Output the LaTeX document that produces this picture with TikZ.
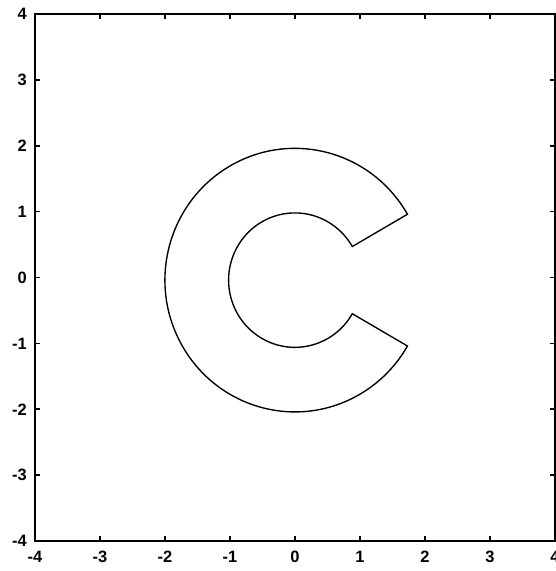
\documentclass[tikz,border=0pt]{standalone}
\usepackage{fontspec}
\setmainfont{Liberation Sans}
\begin{document}
\begin{tikzpicture}[x=1cm, y=1.0138cm,
    every node/.style={font=\fontsize{7.2}{8}\selectfont\bfseries, inner sep=0pt}]
    \useasboundingbox (-4.538, -4.455) rectangle (4.015, 4.212);

    % Marco del grafico
    \draw[line width=0.9pt] (-4, -4) rectangle (4, 4);

    % Marcas en x (abajo y arriba) con etiquetas
    \foreach \x in {-4,...,4} {
        \draw[line width=0.7pt] (\x, -4) -- (\x, -3.92);
        \draw[line width=0.7pt] (\x, 4) -- (\x, 3.92);
        \node (xl\x) at (\x, -4.24) {\x};
    }

    % Marcas en y (izquierda y derecha) con etiquetas
    \foreach \y in {-4,...,4} {
        \draw[line width=0.7pt] (-4, \y) -- (-3.92, \y);
        \draw[line width=0.7pt] (4, \y) -- (3.92, \y);
        \node[anchor=east] (yl\y) at (-4.12, \y) {\y};
    }

    % Figura en forma de C (corona circular abierta)
    \begin{scope}[shift={(0,-0.04)}]
        \draw[line width=0.6pt] (30:2) arc[start angle=30, end angle=330, radius=2]
            -- (330:1.02) arc[start angle=330, end angle=30, radius=1.02] -- cycle;
    \end{scope}
\end{tikzpicture}
\end{document}
